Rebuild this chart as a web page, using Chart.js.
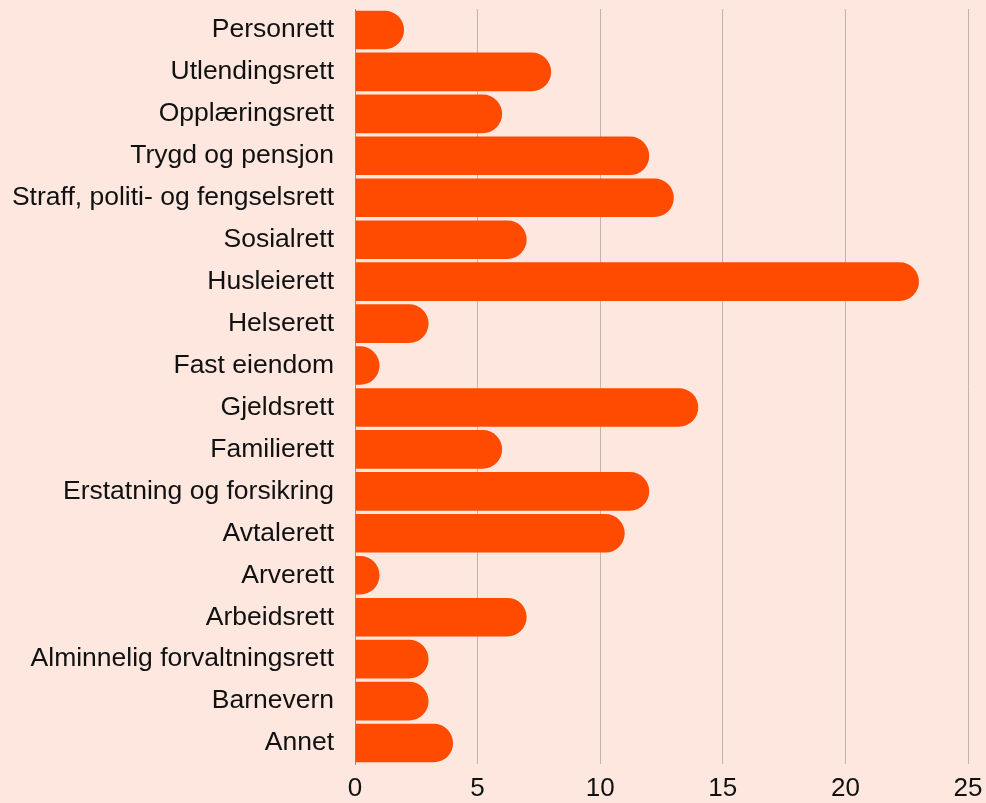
<!DOCTYPE html>
<html>
<head>
<meta charset="utf-8">
<script src="https://cdn.jsdelivr.net/npm/chart.js@4"></script>
<style>
  html, body { margin: 0; padding: 0; background: #fde7df; }
  #wrap { width: 986px; height: 803px; position: relative; }
</style>
</head>
<body>
<div id="wrap"><canvas id="c"></canvas></div>
<script>
const categories = [
  "Personrett", "Utlendingsrett", "Opplæringsrett", "Trygd og pensjon",
  "Straff, politi- og fengselsrett", "Sosialrett", "Husleierett", "Helserett",
  "Fast eiendom", "Gjeldsrett", "Familierett", "Erstatning og forsikring",
  "Avtalerett", "Arverett", "Arbeidsrett", "Alminnelig forvaltningsrett",
  "Barnevern", "Annet"
];
const counts = [2, 8, 6, 12, 13, 7, 23, 3, 1, 14, 6, 12, 11, 1, 7, 3, 3, 4];
const xTicks = [0, 5, 10, 15, 20, 25];

const BAR_COLOR = '#ff4b00';

Chart.defaults.font.family = "'Liberation Sans', Arial, sans-serif";
Chart.defaults.font.size = 26;
Chart.defaults.color = "#111111";

// true when a bar is shorter than it is tall (the library would shrink its end radius)
function isShortBar(ctx) {
  const chart = ctx.chart;
  const x = chart.scales.x, y = chart.scales.y;
  if (!x || !y || ctx.raw == null) return false;
  const len = Math.abs(x.getPixelForValue(ctx.raw) - x.getPixelForValue(0));
  const thick = y.height / categories.length * 0.92;
  return len < thick;
}

// Draws a full round cap for short bars, using the bar elements' own geometry
const roundCapPlugin = {
  id: 'roundCap',
  afterDatasetsDraw(chart) {
    const meta = chart.getDatasetMeta(0);
    const c = chart.ctx;
    c.save();
    c.fillStyle = BAR_COLOR;
    meta.data.forEach((el) => {
      const p = el.getProps(['x', 'y', 'base', 'height'], true);
      const len = p.x - p.base;
      if (len >= p.height) return;
      const r = p.height / 2;
      const cx = Math.max(p.base, p.x - r);
      c.beginPath();
      c.moveTo(p.base, p.y - r);
      c.lineTo(cx, p.y - r);
      c.arc(cx, p.y, r, -Math.PI / 2, Math.PI / 2);
      c.lineTo(p.base, p.y + r);
      c.closePath();
      c.fill();
    });
    c.restore();
  }
};

new Chart(document.getElementById('c'), {
  type: 'bar',
  data: {
    labels: categories,
    datasets: [{
      data: counts,
      backgroundColor: (ctx) => isShortBar(ctx) ? 'rgba(0,0,0,0)' : BAR_COLOR,
      borderWidth: 0,
      borderRadius: 20,
      borderSkipped: 'start',
      categoryPercentage: 1,
      barPercentage: 0.92
    }]
  },
  plugins: [roundCapPlugin],
  options: {
    indexAxis: 'y',
    responsive: true,
    maintainAspectRatio: false,
    animation: false,
    layout: { padding: { top: 9, right: 18, bottom: 0, left: 0 } },
    plugins: { legend: { display: false }, tooltip: { enabled: false } },
    scales: {
      x: {
        min: 0, max: 25,
        afterBuildTicks: (axis) => { axis.ticks = xTicks.map(v => ({ value: v })); },
        grid: { color: '#bfb3ae', lineWidth: 1, drawTicks: false },
        border: { display: false },
        ticks: { padding: 12, color: '#111111', font: { size: 26, lineHeight: 1 } },
        afterFit: (s) => { s.height = 39; s.paddingLeft = 0; s.paddingRight = 0; }
      },
      y: {
        grid: { display: false, drawTicks: false },
        border: { display: true, color: '#9a908c', width: 1 },
        ticks: { padding: 21, color: '#111111', font: { size: 26.5 } },
        afterFit: (s) => { s.width = 355; s.paddingTop = 0; s.paddingBottom = 0; }
      }
    }
  }
});
</script>
</body>
</html>
